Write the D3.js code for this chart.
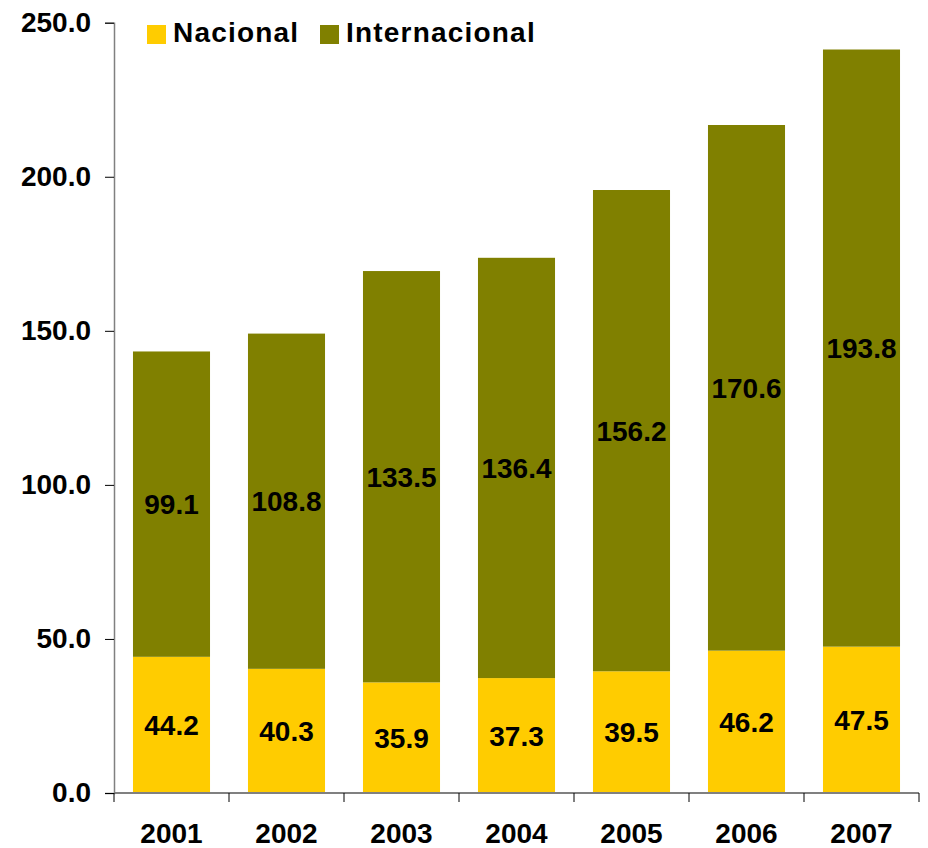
<!DOCTYPE html>
<html>
<head>
<meta charset="utf-8">
<script src="https://cdn.jsdelivr.net/npm/d3@7"></script>
<style>
  body { margin: 0; background: #fff; }
  text { font-family: "Liberation Sans", Arial, sans-serif; font-weight: bold; fill: #000; }
</style>
</head>
<body>
<svg id="chart" width="928" height="848"></svg>
<script>
const years = ['2001', '2002', '2003', '2004', '2005', '2006', '2007'];
const nacional = [44.2, 40.3, 35.9, 37.3, 39.5, 46.2, 47.5];
const internacional = [99.1, 108.8, 133.5, 136.4, 156.2, 170.6, 193.8];
const seriesNames = ['Nacional', 'Internacional'];
const seriesColors = ['#FFCC00', '#808000'];
const yTicks = [0, 50, 100, 150, 200, 250];

const svg = d3.select('#chart');
const plotLeft = 114, plotRight = 919, plotTop = 22.7, plotBottom = 793;

let x = d3.scaleBand().domain(years).range([plotLeft, plotRight]).paddingInner(0.33).paddingOuter(0.165);
let y = d3.scaleLinear().domain([0, 250]).range([plotBottom, plotTop]);

let rows = years.map((yr, i) => ({ year: yr, Nacional: nacional[i], Internacional: internacional[i] }));
let stacked = d3.stack().keys(seriesNames)(rows);

// bars
let layers = svg.append('g').selectAll('g')
  .data(stacked)
  .join('g')
  .attr('fill', (d, i) => seriesColors[i]);

layers.selectAll('rect')
  .data(d => d)
  .join('rect')
  .attr('x', d => x(d.data.year))
  .attr('width', x.bandwidth())
  .attr('y', d => y(d[1]))
  .attr('height', d => y(d[0]) - y(d[1]));

// value labels, centred in each segment
layers.selectAll('text')
  .data(d => d.map(p => ({ p: p, key: d.key })))
  .join('text')
  .attr('x', d => x(d.p.data.year) + x.bandwidth() / 2)
  .attr('y', d => y((d.p[0] + d.p[1]) / 2))
  .attr('dy', '0.36em')
  .attr('text-anchor', 'middle')
  .style('font-size', '28px')
  .text(d => d.p.data[d.key].toFixed(1));

// y axis
let yAxis = svg.append('g')
  .attr('transform', `translate(${plotLeft},0)`)
  .call(d3.axisLeft(y).tickValues(yTicks).tickFormat(d3.format('.1f')).tickSize(9).tickPadding(14));
yAxis.select('.domain').attr('stroke', '#808080').attr('stroke-width', 1.5);
yAxis.selectAll('.tick line').attr('stroke', '#000').attr('stroke-width', 1);
yAxis.selectAll('.tick text').style('font-size', '28px').attr('font-family', null);

// x axis with ticks between categories
let xAxis = svg.append('g')
  .attr('transform', `translate(0,${plotBottom})`);
xAxis.append('line')
  .attr('x1', plotLeft).attr('x2', plotRight)
  .attr('stroke', '#808080').attr('stroke-width', 2);
let step = x.step();
xAxis.selectAll('line.sep')
  .data(d3.range(years.length + 1))
  .join('line')
  .classed('sep', true)
  .attr('x1', i => plotLeft + i * step)
  .attr('x2', i => plotLeft + i * step)
  .attr('y1', 0).attr('y2', 9)
  .attr('stroke', '#000').attr('stroke-width', 1);
xAxis.selectAll('text')
  .data(years)
  .join('text')
  .attr('x', d => x(d) + x.bandwidth() / 2)
  .attr('y', 50)
  .attr('text-anchor', 'middle')
  .style('font-size', '28px')
  .text(d => d);

// legend
let legendX = [147, 320];
let legend = svg.append('g').selectAll('g')
  .data(seriesNames)
  .join('g')
  .attr('transform', (d, i) => `translate(${legendX[i]},25)`);
legend.append('rect')
  .attr('width', 19).attr('height', 19)
  .attr('fill', (d, i) => seriesColors[i]);
legend.append('text')
  .attr('x', 26).attr('y', 17)
  .style('font-size', '28px')
  .style('letter-spacing', '1.2px')
  .text(d => d);
</script>
</body>
</html>
